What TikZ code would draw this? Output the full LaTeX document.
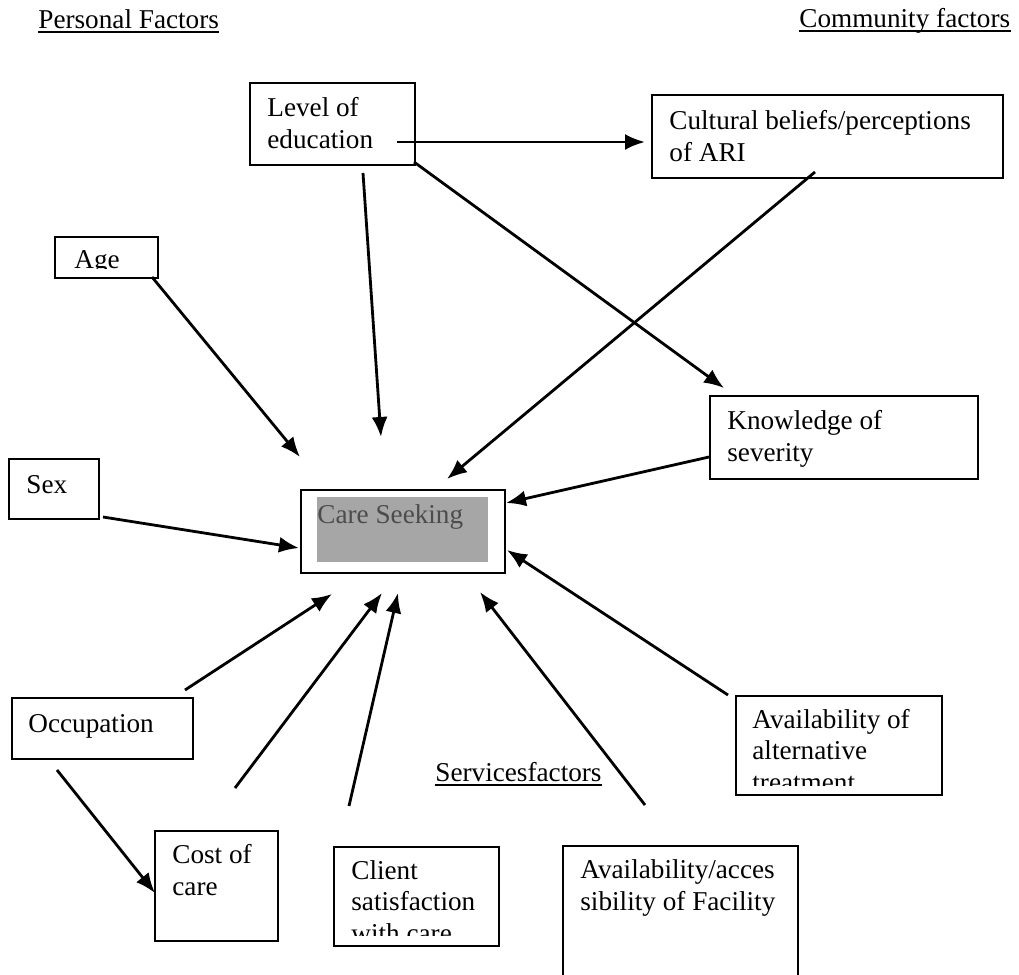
\documentclass[tikz,border=0pt]{standalone}
\usepackage{fontspec}
\setmainfont{Liberation Serif}
\usetikzlibrary{arrows.meta}

\begin{document}
\begin{tikzpicture}[x=0.5pt,y=-0.5pt,
		every node/.style={font=\fontsize{13.6}{15.75}\selectfont},
		fbox/.style={draw,line width=1.2pt,inner sep=0pt,anchor=north west},
		txt/.style={anchor=base west,inner sep=0pt,align=left},
		arr/.style={line width=1.4pt,-{Latex[length=10pt,width=8pt]}}]

		\useasboundingbox (0,0) rectangle (1019,975);

		% headings
		\node[txt] (pers) at (38,28) {Personal Factors};
		\node[txt] (comm) at (799,27) {Community factors};
		\node[txt] (serv) at (435,781) {Servicesfactors};
		\foreach \h in {pers,comm,serv}
			\draw[line width=0.7pt] ([yshift=-2pt]\h.base west) -- ([yshift=-2pt]\h.base east);

		% boxes
		\node[fbox,minimum width=82.5pt,minimum height=41pt] (edu) at (249,82) {};
		\node[fbox,minimum width=175.5pt,minimum height=41.5pt] (cult) at (651,94) {};
		\node[fbox,minimum width=51.5pt,minimum height=20.5pt] (age) at (54,236) {};
		\node[fbox,minimum width=45pt,minimum height=30pt] (sex) at (8,458) {};
		\node[fbox,minimum width=102pt,minimum height=41.5pt] (care) at (300,489) {};
		\node[fbox,minimum width=134pt,minimum height=41.5pt] (know) at (709,395) {};
		\node[fbox,minimum width=90.5pt,minimum height=30.5pt] (occ) at (11,697) {};
		\node[fbox,minimum width=61.5pt,minimum height=55pt] (cost) at (154,830) {};
		\node[fbox,minimum width=82.5pt,minimum height=49.5pt] (client) at (333,846) {};
		\node[fbox,minimum width=103pt,minimum height=49.5pt] (alt) at (735,695) {};
		\node[fbox,minimum width=117.5pt,minimum height=72.5pt] (avail) at (562,845) {};

		\fill[black!35] (317,497) rectangle (488,562);

		% box texts (anchored on the last line)
		\node[txt] at (267,148) {Level of\\education};
		\node[txt] at (669,161) {Cultural beliefs/perceptions\\of ARI};
		\node[txt] at (26,493) {Sex};
		\node[txt,text=black!70] at (317,523) {Care Seeking};
		\node[txt] at (727,461) {Knowledge of\\severity};
		\node[txt] at (28,732) {Occupation};
		\node[txt] at (172,895) {Cost of\\care};
		\node[txt] at (580,910) {Availability/acces\\sibility of Facility};
		\begin{scope}
			\clip (54,236) rectangle (157,268);
			\node[txt] at (74,268) {Age};
		\end{scope}
		\begin{scope}
			\clip (333,846) rectangle (498,935);
			\node[txt] at (351,942) {Client\\satisfaction\\with care};
		\end{scope}
		\begin{scope}
			\clip (735,695) rectangle (941,785);
			\node[txt] at (752,791) {Availability of\\alternative\\treatment};
		\end{scope}

		% arrow ends
		\coordinate (eduR) at (397,142);
		\coordinate (eduB) at (363,173);
		\coordinate (eduC) at (414,162);
		\coordinate (cultL) at (645,142);
		\coordinate (cultB) at (815,172);
		\coordinate (knowT) at (724,388);
		\coordinate (knowL) at (709,457);
		\coordinate (ageC) at (152,277);
		\coordinate (sexR) at (103,517);
		\coordinate (altC) at (728,695);
		\coordinate (occT) at (185,690);
		\coordinate (occB) at (57,770);
		\coordinate (costL) at (155,893);
		\coordinate (costT) at (235,788);
		\coordinate (clientT) at (349,806);
		\coordinate (availT) at (645,805);
		\coordinate (careA) at (381,437);
		\coordinate (careB) at (447,479);
		\coordinate (careC) at (300,457);
		\coordinate (careD) at (299,548);
		\coordinate (careE) at (506,503);
		\coordinate (careF) at (507,550);
		\coordinate (careG) at (332,594);
		\coordinate (careH) at (382,593);
		\coordinate (careI) at (398,593);
		\coordinate (careJ) at (480,592);

		\draw[arr] (eduR) -- (cultL);
		\draw[arr] (eduB) -- (careA);
		\draw[arr] (eduC) -- (knowT);
		\draw[arr] (cultB) -- (careB);
		\draw[arr] (ageC) -- (careC);
		\draw[arr] (sexR) -- (careD);
		\draw[arr] (knowL) -- (careE);
		\draw[arr] (altC) -- (careF);
		\draw[arr] (occT) -- (careG);
		\draw[arr] (costT) -- (careH);
		\draw[arr] (clientT) -- (careI);
		\draw[arr] (availT) -- (careJ);
		\draw[arr] (occB) -- (costL);

\end{tikzpicture}
\end{document}
